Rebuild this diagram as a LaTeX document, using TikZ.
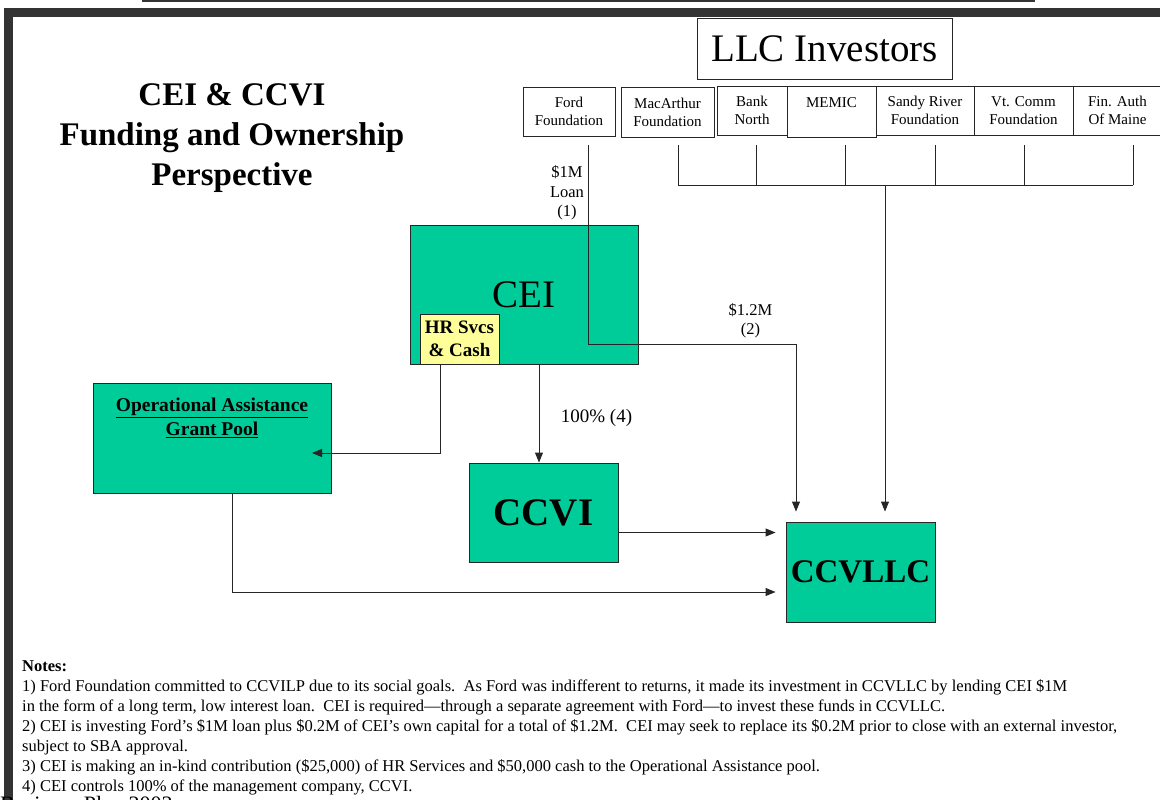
\documentclass[tikz,border=0pt]{standalone}
\usepackage{fontspec}
\setmainfont{Liberation Serif}
\usetikzlibrary{arrows.meta,calc}
\definecolor{fundgreen}{HTML}{00CC99}
\definecolor{svcyellow}{HTML}{FFFF99}
\definecolor{framegray}{HTML}{333333}
\newcommand{\fs}[2]{\fontsize{#1}{#2}\selectfont}
\newcommand{\gap}{\ \ }
\tikzset{
  orgbox/.style={draw=black!85, fill=fundgreen, line width=0.9pt, inner sep=0pt},
  investor/.style={draw=black!85, line width=0.9pt, inner sep=0pt, align=center, font=\fs{15}{18}},
  link/.style={draw=black!85, line width=0.9pt},
  flow/.style={link, -{Triangle[length=10pt,width=8pt]}},
}

\begin{document}
\begin{tikzpicture}[x=1pt,y=-1pt]
  \useasboundingbox (0,0) rectangle (1160,800);
  % page frame
  \draw[framegray, line width=2.5pt] (142,1) -- (1035,1);
  \draw[framegray, line width=9pt] (8.5,900) |- (1300,12.5);

  % title
  \node[align=center, font=\bfseries\fs{33}{40}] (title) at (232,138) {CEI \& CCVI\\Funding and Ownership\\Perspective};

  % investors
  \node[draw=black!85, line width=0.9pt, minimum width=255pt, minimum height=61pt, font=\fs{39}{44}] (llc) at (824.5,48.5) {LLC Investors};
  \node[investor, minimum width=92pt, minimum height=49pt] (ford) at (569,111.5) {Ford\\Foundation};
  \node[investor, minimum width=93pt, minimum height=50pt] (macarthur) at (667.5,112) {MacArthur\\Foundation};
  \node[investor, minimum width=70pt, minimum height=49pt] (banknorth) at (752,110.5) {Bank\\North};
  \node[investor, minimum width=89pt, minimum height=51pt] (memic) at (831.5,111.5) {MEMIC\\\mbox{}};
  \node[investor, minimum width=98pt, minimum height=49pt] (sandyriver) at (925,110.5) {Sandy River\\Foundation};
  \node[investor, minimum width=99pt, minimum height=49pt] (vtcomm) at (1023.5,110.5) {Vt. Comm\\Foundation};
  \node[investor, minimum width=89pt, minimum height=49pt] (finauth) at (1117.5,110.5) {Fin. Auth\\Of Maine};

  % organisations
  \node[orgbox, minimum width=228pt, minimum height=139pt, font=\fs{39}{44}] (cei) at (524,294.5) {CEI};
  \node[orgbox, fill=svcyellow, minimum width=79pt, minimum height=50pt, align=center, font=\bfseries\fs{19}{23}] (hrsvcs) at (459.5,339) {HR Svcs\\\& Cash};
  \node[orgbox, minimum width=238pt, minimum height=110pt] (opgrant) at (212,438) {};
  \node[align=center, font=\bfseries\fs{19.5}{24}] (opgrantText) at (212,418) {\underline{Operational Assistance}\\\underline{Grant Pool}};
  \node[orgbox, minimum width=149pt, minimum height=99pt, font=\bfseries\fs{39}{44}] (ccvi) at (543.5,512.5) {CCVI};
  \node[orgbox, minimum width=149pt, minimum height=100pt, font=\bfseries\fs{33}{38}] (ccvllc) at (860.5,572) {CCVLLC};

  % investor bus
  \coordinate (busL) at (678,185);
  \coordinate (busR) at (1133,185);
  \coordinate (busJoin) at (885,185);
  \foreach \x in {678,756,845,935,1024,1133}
    \draw[link] (\x,145) -- (\x,185);
  \draw[link] (busL) -- (busR);
  \draw[flow, shorten >=10pt] (busJoin) -- (busJoin |- ccvllc.north);

  % Ford loan through CEI
  \coordinate (fordTap) at (588,145);
  \coordinate (loanTurn) at (796,344);
  \draw[flow, shorten >=10pt] (fordTap) |- (loanTurn) -- (loanTurn |- ccvllc.north);
  \node[align=center, font=\fs{16.5}{19.5}] (loanLabel) at (567,193) {\$1M\\Loan\\(1)};
  \node[align=center, font=\fs{16.5}{19.5}] (investLabel) at (750.5,321) {\$1.2M\\(2)};

  % CEI links
  \draw[flow] ([xshift=-4.5pt]ccvi.north |- cei.south) -- ([xshift=-4.5pt]ccvi.north);
  \node[font=\fs{19}{23}] (ownLabel) at (596.5,418) {100\% (4)};
  \coordinate (poolIn) at (312,453);
  \draw[flow] ([xshift=-19.5pt]hrsvcs.south) |- (poolIn);
  \draw[flow, shorten >=10pt] ([xshift=20pt]opgrant.south) |- ([yshift=-20pt]ccvllc.west);
  \draw[flow, shorten >=10pt] ([yshift=-20pt]ccvi.east) -- ([yshift=-20pt]ccvi.east -| ccvllc.west);

  % notes
  \node[anchor=north west, align=left, inner sep=0pt, font=\fs{16.5}{20}] (notes) at (22,660) {%
    \textbf{Notes:}\\
    1) Ford Foundation committed to CCVILP due to its social goals.\gap As Ford was indifferent to returns, it made its investment in CCVLLC by lending CEI \$1M\\
    in the form of a long term, low interest loan.\gap CEI is required—through a separate agreement with Ford—to invest these funds in CCVLLC.\\
    2) CEI is investing Ford’s \$1M loan plus \$0.2M of CEI’s own capital for a total of \$1.2M.\gap CEI may seek to replace its \$0.2M prior to close with an external investor,\\
    subject to SBA approval.\\
    3) CEI is making an in-kind contribution (\$25,000) of HR Services and \$50,000 cash to the Operational Assistance pool.\\
    4) CEI controls 100\% of the management company, CCVI.};
  \node[anchor=base west, inner sep=0pt, font=\fs{22}{26}] (footer) at (0,811) {Business Plan 2003};
\end{tikzpicture}
\end{document}
